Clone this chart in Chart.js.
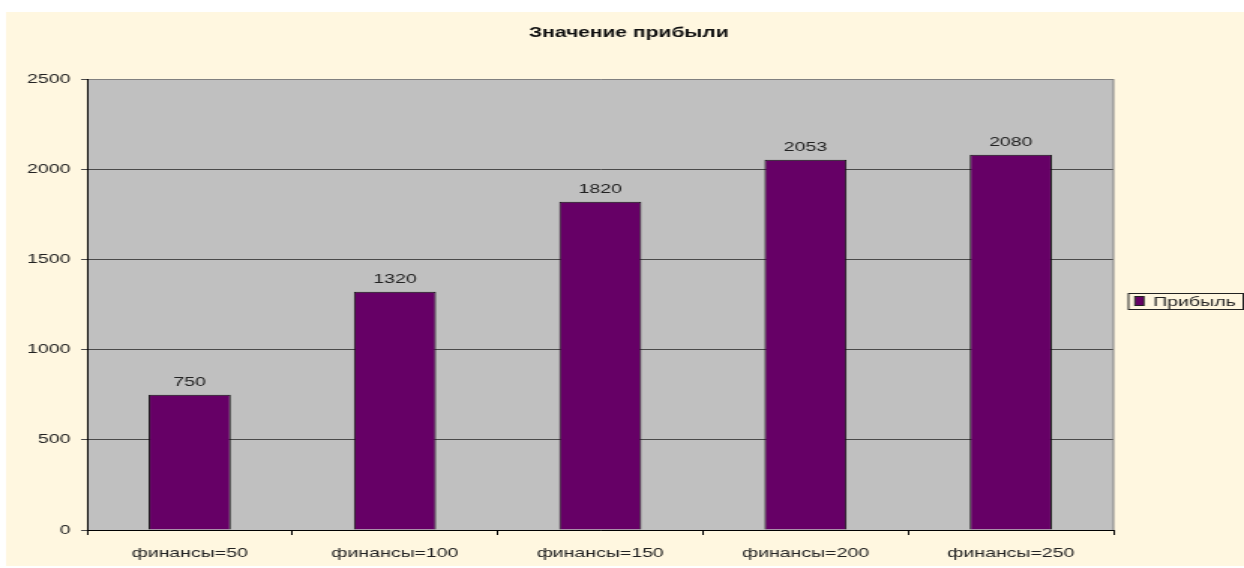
<!DOCTYPE html>
<html>
<head>
<meta charset="utf-8">
<script src="https://cdn.jsdelivr.net/npm/chart.js@4/dist/chart.umd.min.js"></script>
<style>
  html, body { margin: 0; padding: 0; background: #fff; overflow: hidden; }
  /* the original picture is stretched sideways by about 1.5, so the canvas is too */
  #profit { width: 1244px !important; height: 568px !important; display: block; }
</style>
</head>
<body>
<canvas id="profit" width="829" height="568" style="width:1244px;height:568px"></canvas>
<script>
'use strict';

// chart data
var categories = ['финансы=50', 'финансы=100', 'финансы=150', 'финансы=200', 'финансы=250']
var profit = [750, 1320, 1820, 2053, 2080]
var yTicks = [0, 500, 1000, 1500, 2000, 2500]
var chartTitle = 'Значение прибыли'
var seriesName = 'Прибыль'

var FONT = '"Liberation Sans", Arial, sans-serif'
var W = 829

// cream backdrop, plot fill, right border, title, value labels, legend
var excelLook = {
    id: 'excelLook',
    beforeDraw: function(chart){
        let ctx = chart.ctx
        let a = chart.chartArea
        ctx.save()
        ctx.fillStyle = '#FFF7E0'
        ctx.fillRect(4, 12, W - 4, 554)
        ctx.fillStyle = '#C0C0C0'
        ctx.fillRect(a.left, a.top, a.right - a.left, a.bottom - a.top)
        ctx.restore()
    },
    afterDraw: function(chart){
        let ctx = chart.ctx
        let a = chart.chartArea
        ctx.save()

        // right border of plot area
        ctx.strokeStyle = '#808080'
        ctx.lineWidth = 1
        ctx.beginPath()
        ctx.moveTo(a.right, a.top)
        ctx.lineTo(a.right, a.bottom)
        ctx.stroke()

        // title
        ctx.fillStyle = '#111'
        ctx.font = 'bold 14px ' + FONT
        ctx.textAlign = 'center'
        ctx.textBaseline = 'middle'
        ctx.fillText(chartTitle, 419, 33)

        // value labels
        ctx.font = '13px ' + FONT
        ctx.fillStyle = '#222'
        ctx.textBaseline = 'alphabetic'
        let meta = chart.getDatasetMeta(0)
        meta.data.forEach(function(bar, i){
            ctx.fillText(String(profit[i]), bar.x, bar.y - 9)
        })

        // legend
        ctx.strokeStyle = '#222'
        ctx.strokeRect(752, 293.5, 76.5, 16)
        ctx.fillStyle = '#660066'
        ctx.fillRect(756.5, 297, 5.5, 8)
        ctx.strokeRect(756.3, 296.5, 6, 9)
        ctx.fillStyle = '#222'
        ctx.textAlign = 'left'
        ctx.textBaseline = 'middle'
        ctx.fillText(seriesName, 768.5, 302)

        ctx.restore()
    }
}

var config = {
    type: 'bar',
    data: {
        labels: categories,
        datasets: [{
            label: seriesName,
            data: profit,
            backgroundColor: '#660066',
            borderColor: '#111',
            borderWidth: 1,
            categoryPercentage: 1,
            barPercentage: 0.4
        }]
    },
    options: {
        responsive: false,
        maintainAspectRatio: false,
        animation: false,
        devicePixelRatio: 1,
        layout: { padding: { top: 79, right: 87, bottom: 0, left: 0 } },
        plugins: {
            legend: { display: false },
            title: { display: false },
            tooltip: { enabled: false }
        },
        scales: {
            x: {
                offset: true,
                grid: {
                    offset: true,
                    drawOnChartArea: false,
                    drawTicks: true,
                    tickLength: 5,
                    color: '#000'
                },
                border: { color: '#000', width: 1 },
                ticks: { color: '#222', font: { family: FONT, size: 13 }, padding: 11, maxRotation: 0 },
                afterFit: function(s){ s.height = 38 }
            },
            y: {
                min: 0,
                max: 2500,
                afterBuildTicks: function(s){ s.ticks = yTicks.map(function(v){ return { value: v } }) },
                grid: {
                    color: function(c){ return c.tick && c.tick.value === 2500 ? '#808080' : '#4a4a4a' },
                    tickColor: '#4a4a4a',
                    tickLength: 4
                },
                border: { color: '#000', width: 1 },
                ticks: {
                    color: '#222',
                    font: { family: FONT, size: 13 },
                    padding: 7,
                    callback: function(v){ return String(v) }
                },
                afterFit: function(s){ s.width = 58 }
            }
        }
    },
    plugins: [excelLook]
}

new Chart(document.getElementById('profit'), config)
</script>
</body>
</html>
